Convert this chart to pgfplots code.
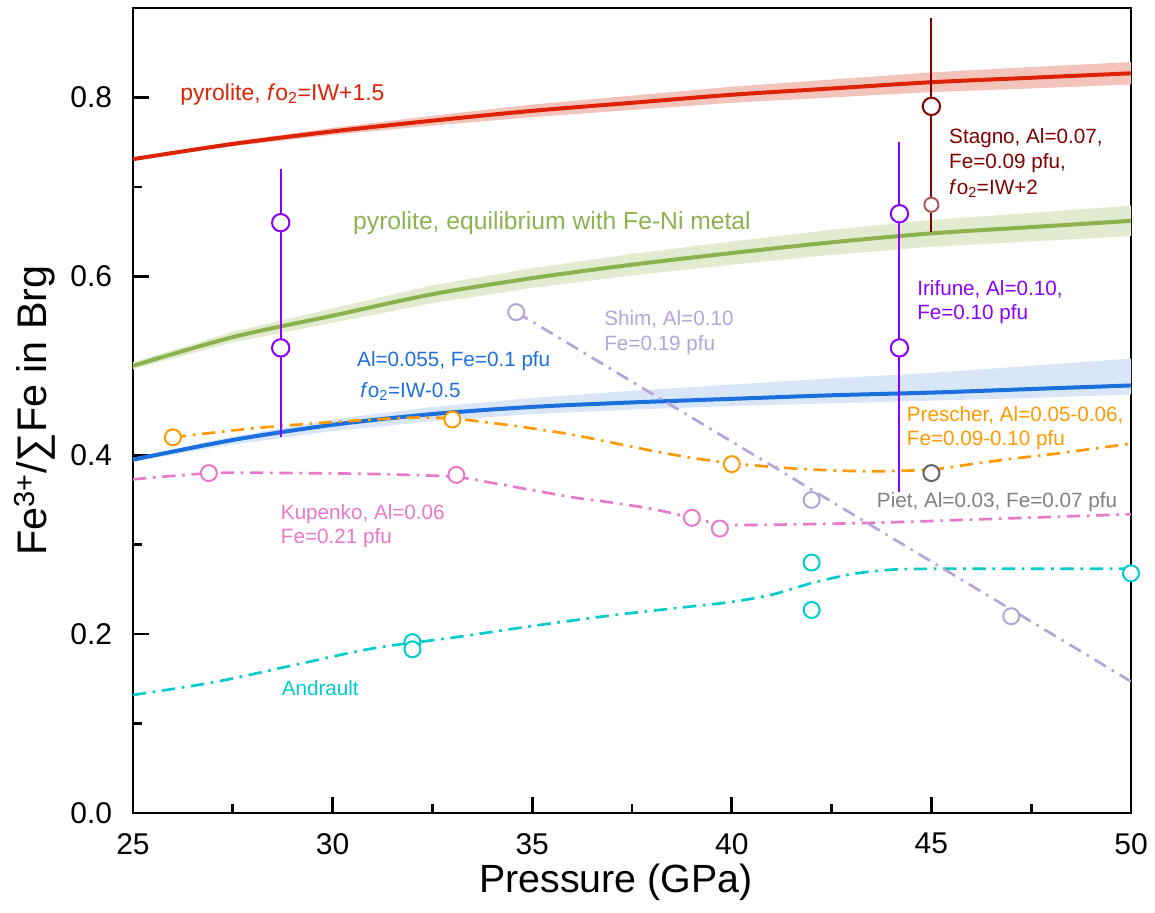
\documentclass[border=0pt]{standalone}
\usepackage{fontspec}
\setmainfont{Liberation Sans}
\usepackage{pgfplots}
\pgfplotsset{compat=1.18}

\definecolor{redc}{RGB}{220,35,5}
\definecolor{redband}{RGB}{243,196,188}
\definecolor{greenc}{RGB}{140,178,80}
\definecolor{greenband}{RGB}{226,235,208}
\definecolor{bluec}{RGB}{28,112,222}
\definecolor{blueband}{RGB}{216,230,248}
\definecolor{purp}{RGB}{140,0,255}
\definecolor{stag}{RGB}{128,0,0}
\definecolor{stagb}{RGB}{170,90,90}
\definecolor{shim}{RGB}{180,165,215}
\definecolor{orng}{RGB}{255,153,0}
\definecolor{pietc}{RGB}{100,100,100}
\definecolor{piett}{RGB}{128,128,128}
\definecolor{pinkc}{RGB}{232,120,200}
\definecolor{cyanc}{RGB}{0,204,204}

\newcommand{\fo}{\textit{f}o\textsubscript{2}}
\newcommand{\lab}{\fontsize{15.5}{18}\selectfont}

\pgfplotsset{
  dd/.style={line width=2pt, dash pattern=on 10pt off 5pt on 2pt off 5pt},
  om/.style={only marks, mark=*, mark size=6pt, mark options={fill=white, draw=#1, line width=1.5pt, solid}},
}

\begin{document}
\begin{tikzpicture}
\begin{axis}[
  scale only axis, width=748.5pt, height=603.75pt,
  xmin=25, xmax=50, ymin=0, ymax=0.9,
  xtick={25,30,35,40,45,50}, ytick={0,0.2,0.4,0.6,0.8},
  minor x tick num=1, minor y tick num=1,
  tick pos=left, tick align=inside,
  major tick length=12pt, minor tick length=6.5pt,
  axis line style={line width=2.2pt},
  every tick/.style={black, line width=2pt},
  /pgf/number format/assume math mode=true,
  yticklabel style={/pgf/number format/fixed, /pgf/number format/precision=1, /pgf/number format/zerofill, font=\fontsize{22.5}{27}\selectfont, inner sep=0pt, xshift=-15.5pt},
  xticklabel style={font=\fontsize{22.5}{27}\selectfont, inner sep=0pt, yshift=-15pt},
  xlabel={Pressure (GPa)},
  xlabel style={font=\fontsize{29.5}{34}\selectfont, at={(axis description cs:0.484,-0.0985)}, anchor=base, inner sep=0pt},
  ylabel={Fe\textsuperscript{3+}/∑Fe in Brg},
  ylabel style={font=\fontsize{31}{36}\selectfont, at={(axis description cs:-0.098,0.5)}, anchor=center},
]
% bands
\addplot[draw=none, fill=redband] coordinates {
 (25,0.732) (27.5,0.7505) (30,0.766) (32.5,0.7795) (35,0.792) (37.5,0.802) (40,0.812) (42.5,0.820) (45,0.828) (47.5,0.834) (50,0.8395)
 (50,0.8145) (47.5,0.810) (45,0.806) (42.5,0.800) (40,0.794) (37.5,0.786) (35,0.778) (32.5,0.7685) (30,0.758) (27.5,0.7455) (25,0.730)};
\addplot[draw=none, fill=greenband] coordinates {
 (25,0.504) (27.5,0.538) (30,0.564) (32.5,0.590) (35,0.609) (37.5,0.625) (40,0.639) (42.5,0.652) (45,0.663) (47.5,0.671) (50,0.679)
 (50,0.645) (47.5,0.639) (45,0.633) (42.5,0.624) (40,0.613) (37.5,0.601) (35,0.587) (32.5,0.570) (30,0.548) (27.5,0.526) (25,0.496)};
\addplot[draw=none, fill=blueband] coordinates {
 (25,0.397) (27.5,0.421) (30,0.440) (32.5,0.454) (35,0.464) (37.5,0.472) (40,0.479) (42.5,0.486) (45,0.492) (47.5,0.500) (50,0.508)
 (50,0.468) (47.5,0.464) (45,0.461) (42.5,0.458) (40,0.455) (37.5,0.451) (35,0.446) (32.5,0.438) (30,0.427) (27.5,0.412) (25,0.393)};
% model curves
\addplot[redc, line width=3pt, smooth] coordinates {
 (25,0.731) (27.5,0.748) (30,0.762) (32.5,0.774) (35,0.785) (37.5,0.794) (40,0.803) (42.5,0.810) (45,0.817) (47.5,0.822) (50,0.827)};
\addplot[greenc, line width=3pt, smooth] coordinates {
 (25,0.500) (27.5,0.532) (30,0.556) (32.5,0.580) (35,0.598) (37.5,0.613) (40,0.626) (42.5,0.638) (45,0.648) (47.5,0.655) (50,0.662)};
\addplot[bluec, line width=3pt, smooth] coordinates {
 (25,0.395) (27.5,0.417) (30,0.434) (32.5,0.446) (35,0.454) (37.5,0.459) (40,0.463) (42.5,0.467) (45,0.470) (47.5,0.474) (50,0.478)};
% dash-dot trend lines
\addplot[cyanc, dd, smooth] coordinates {
 (25,0.132) (27,0.146) (29,0.165) (31,0.184) (33,0.196) (35,0.209) (37,0.221) (39,0.231) (40,0.236) (41,0.244) (42,0.257) (43,0.267) (44,0.272) (45,0.273) (47,0.273) (50,0.273)};
\addplot[pinkc, dd, smooth] coordinates {
 (25,0.373) (27,0.380) (29,0.380) (31,0.379) (33,0.376) (34,0.369) (35,0.361) (36,0.353) (37,0.347) (38,0.340) (39,0.330) (39.7,0.323) (40.5,0.322) (42,0.323) (44,0.325) (46,0.328) (48,0.331) (50,0.334)};
\addplot[orng, dd, smooth] coordinates {
 (26,0.420) (28,0.430) (30,0.437) (32,0.442) (33,0.441) (34,0.436) (35,0.430) (36,0.423) (37,0.414) (38,0.405) (39,0.397) (40,0.391) (41,0.387) (42,0.384) (43.5,0.382) (45,0.384) (46,0.390) (47,0.396) (48,0.401) (49,0.407) (50,0.413)};
\addplot[shim, dd] coordinates {(34.6,0.56) (50,0.147)};
% error bars
\addplot[purp, line width=1.5pt] coordinates {(28.7,0.42) (28.7,0.72)};
\addplot[purp, line width=1.5pt] coordinates {(44.2,0.359) (44.2,0.75)};
\addplot[stag, line width=1.5pt] coordinates {(45,0.649) (45,0.889)};
% markers
\addplot[om=cyanc, mark size=6pt] coordinates {(32,0.191) (32,0.183) (42,0.280) (42,0.227) (50,0.268)};
\addplot[om=pinkc] coordinates {(26.9,0.380) (33.1,0.378) (39,0.330) (39.7,0.318)};
\addplot[om=orng] coordinates {(26,0.420) (33,0.440) (40,0.390)};
\addplot[om=shim] coordinates {(34.6,0.560) (42,0.350) (47,0.220)};
\addplot[om=pietc] coordinates {(45,0.380)};
\addplot[om=purp, mark size=6.5pt] coordinates {(28.7,0.66) (28.7,0.52) (44.2,0.67) (44.2,0.52)};
\addplot[om=stag, mark size=6.5pt] coordinates {(45,0.79)};
\addplot[om=stagb, mark size=5.3pt] coordinates {(45,0.68)};
% labels
\node[anchor=base west, inner sep=0pt, text=redc, font=\fontsize{17.2}{20}\selectfont] at (axis cs:26.18,0.797) {pyrolite, \fo=IW+1.5};
\node[anchor=base west, inner sep=0pt, text=greenc, font=\fontsize{18.5}{22}\selectfont] at (axis cs:30.51,0.6525) {pyrolite, equilibrium with Fe-Ni metal};
\node[anchor=base west, inner sep=0pt, text=bluec, font=\lab] at (axis cs:30.61,0.4995) {Al=0.055, Fe=0.1 pfu};
\node[anchor=base west, inner sep=0pt, text=bluec, font=\lab] at (axis cs:30.69,0.465) {\fo=IW-0.5};
\node[anchor=base west, inner sep=0pt, text=shim, font=\lab] at (axis cs:36.8,0.545) {Shim, Al=0.10};
\node[anchor=base west, inner sep=0pt, text=shim, font=\lab] at (axis cs:36.8,0.517) {Fe=0.19 pfu};
\node[anchor=base west, inner sep=0pt, text=stag, font=\lab] at (axis cs:45.44,0.749) {Stagno, Al=0.07,};
\node[anchor=base west, inner sep=0pt, text=stag, font=\lab] at (axis cs:45.44,0.720) {Fe=0.09 pfu,};
\node[anchor=base west, inner sep=0pt, text=stag, font=\lab] at (axis cs:45.44,0.692) {\fo=IW+2};
\node[anchor=base west, inner sep=0pt, text=purp, font=\lab] at (axis cs:44.64,0.5788) {Irifune, Al=0.10,};
\node[anchor=base west, inner sep=0pt, text=purp, font=\lab] at (axis cs:44.64,0.5516) {Fe=0.10 pfu};
\node[anchor=base west, inner sep=0pt, text=orng, font=\lab] at (axis cs:44.38,0.438) {Prescher, Al=0.05-0.06,};
\node[anchor=base west, inner sep=0pt, text=orng, font=\lab] at (axis cs:44.38,0.411) {Fe=0.09-0.10 pfu};
\node[anchor=base west, inner sep=0pt, text=piett, font=\lab] at (axis cs:43.63,0.3416) {Piet, Al=0.03, Fe=0.07 pfu};
\node[anchor=base west, inner sep=0pt, text=pinkc, font=\lab] at (axis cs:28.70,0.3285) {Kupenko, Al=0.06};
\node[anchor=base west, inner sep=0pt, text=pinkc, font=\lab] at (axis cs:28.70,0.3017) {Fe=0.21 pfu};
\node[anchor=base west, inner sep=0pt, text=cyanc, font=\lab] at (axis cs:28.72,0.131) {Andrault};
\end{axis}
\path (current axis.south west) ++(-99.75pt,-75pt) coordinate (bbA);
\path (current axis.north east) ++(18pt,6pt) coordinate (bbB);
\path (bbA) rectangle (bbB);
\end{tikzpicture}
\end{document}
